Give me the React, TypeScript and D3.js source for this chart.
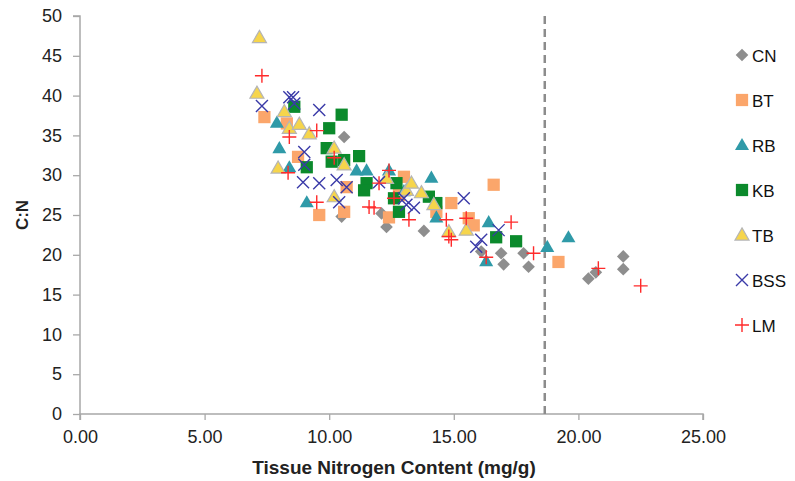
import React, { useEffect, useRef } from 'react';
import * as d3 from 'd3';

// C:N ratio vs tissue nitrogen, one list of [x, y] per species
const cn = [[10.6, 34.8], [10.5, 24.8], [12.1, 25.2], [12.3, 23.5], [13.8, 23.0], [16.1, 20.4], [16.9, 20.2],
  [17.0, 18.8], [17.8, 20.2], [18.0, 18.5], [20.4, 17.0], [20.7, 17.8], [21.8, 19.8], [21.8, 18.2]];
const bt = [[7.4, 37.3], [8.3, 36.5], [8.75, 32.3], [9.6, 25.0], [10.6, 25.4], [10.7, 28.5], [12.4, 24.7],
  [13.0, 29.8], [14.3, 25.4], [14.9, 26.5], [15.6, 24.6], [15.8, 23.7], [16.6, 28.8], [19.2, 19.1], [12.8, 27.5]];
const rb = [[7.9, 36.6], [8.0, 33.4], [8.4, 31.0], [9.1, 26.6], [11.1, 30.6], [11.5, 30.6], [12.4, 30.6],
  [14.1, 29.7], [14.3, 24.7], [16.4, 24.1], [16.3, 19.2], [18.75, 21.0], [19.6, 22.2], [13.0, 28.0]];
const kb = [[8.6, 38.6], [9.1, 31.0], [10.5, 37.6], [10.0, 35.9], [9.9, 33.4], [10.1, 31.7], [10.6, 31.9],
  [11.2, 32.4], [11.5, 29.0], [11.4, 28.1], [12.7, 29.0], [12.6, 27.1], [12.8, 25.4], [14.0, 27.3], [14.3, 26.5],
  [16.7, 22.2], [17.5, 21.7]];
const tb = [[7.2, 47.3], [7.1, 40.3], [8.2, 38.0], [8.4, 35.9], [8.8, 36.4], [9.2, 35.2], [7.95, 30.9],
  [10.2, 33.4], [10.6, 31.3], [10.2, 27.3], [12.3, 29.6], [13.1, 28.1], [13.3, 29.0], [13.7, 27.8], [14.2, 26.3],
  [14.8, 22.9], [15.5, 23.1]];
const bss = [[7.3, 38.7], [8.4, 39.8], [8.55, 39.8], [8.6, 39.0], [9.6, 38.2], [9.0, 32.9], [9.0, 31.3],
  [8.95, 29.1], [9.6, 29.0], [10.3, 29.4], [10.7, 28.5], [10.4, 26.6], [12.0, 29.1], [13.0, 27.1], [13.1, 26.3],
  [13.4, 25.9], [15.4, 27.1], [16.1, 21.9], [16.8, 23.1], [15.9, 21.0]];
const lm = [[7.3, 42.5], [8.4, 34.8], [8.35, 30.3], [9.5, 35.6], [10.2, 32.2], [9.5, 26.6], [11.6, 26.0],
  [11.8, 25.9], [12.0, 29.0], [12.4, 30.6], [12.6, 27.1], [13.2, 24.4], [14.7, 24.4], [14.9, 21.9], [14.8, 22.3],
  [15.5, 24.6], [16.3, 19.7], [17.3, 24.1], [18.2, 20.2], [20.8, 18.3], [22.5, 16.1]];

const seriesNames = ['CN', 'BT', 'RB', 'KB', 'TB', 'BSS', 'LM'];
const seriesData = [cn, bt, rb, kb, tb, bss, lm];
const xTicks = [0, 5, 10, 15, 20, 25];
const yTicks = [0, 5, 10, 15, 20, 25, 30, 35, 40, 45, 50];
const cutoff = 18.65;

const styles: any = {
  CN: { shape: 'diamond', fill: '#8e8e8e' },
  BT: { shape: 'square', fill: '#fba66b' },
  RB: { shape: 'triangle', fill: '#2f9aa8' },
  KB: { shape: 'square', fill: '#0b8a2c' },
  TB: { shape: 'triangle', fill: '#f6d54b', stroke: '#b5b5b5' },
  BSS: { shape: 'x', stroke: '#3a3aa8' },
  LM: { shape: 'plus', stroke: '#ff2a2a' },
};

const W = 795, H = 481;
const margin = { top: 16, right: 92, bottom: 67, left: 80 };

function addMarker(g: any, name: string) {
  const s = styles[name];
  if (s.shape === 'square') {
    g.append('path').attr('d', d3.symbol(d3.symbolSquare, 150)()).attr('fill', s.fill);
  } else if (s.shape === 'diamond') {
    g.append('path').attr('d', d3.symbol(d3.symbolSquare, 80)()).attr('transform', 'rotate(45)').attr('fill', s.fill);
  } else if (s.shape === 'triangle') {
    g.append('path').attr('d', d3.symbol(d3.symbolTriangle, 85)()).attr('transform', 'translate(0,1)')
      .attr('fill', s.fill).attr('stroke', s.stroke || 'none').attr('stroke-width', 1.2);
  } else if (s.shape === 'x') {
    g.append('path').attr('d', 'M-6,-6L6,6M-6,6L6,-6').attr('stroke', s.stroke).attr('stroke-width', 1.4).attr('fill', 'none');
  } else {
    g.append('path').attr('d', 'M-7,0H7M0,-7V7').attr('stroke', s.stroke).attr('stroke-width', 1.4).attr('fill', 'none');
  }
}

export default function App() {
  const ref = useRef<SVGSVGElement>(null);

  useEffect(() => {
    document.body.style.margin = '0';
    const svg = d3.select(ref.current);
    svg.selectAll('*').remove();

    const x = d3.scaleLinear().domain([0, 25]).range([margin.left, W - margin.right]);
    const y = d3.scaleLinear().domain([0, 50]).range([H - margin.bottom, margin.top]);
    const axisColor = '#a8a8a8';
    const font = 'Liberation Sans, Arial, sans-serif';

    // y axis
    const yAxis = svg.append('g')
      .attr('transform', `translate(${margin.left},0)`)
      .call(d3.axisLeft(y).tickValues(yTicks).tickSize(7).tickPadding(11).tickFormat(d3.format('d')));
    // x axis
    const xAxis = svg.append('g')
      .attr('transform', `translate(0,${H - margin.bottom})`)
      .call(d3.axisBottom(x).tickValues(xTicks).tickSize(6).tickPadding(10).tickFormat(d3.format('.2f')));
    [yAxis, xAxis].forEach(a => {
      a.select('.domain').attr('stroke', axisColor).attr('stroke-width', 1.5);
      a.selectAll('.tick line').attr('stroke', axisColor).attr('stroke-width', 1.3);
      a.selectAll('.tick text').attr('fill', '#222').style('font-family', font).style('font-size', '18px');
    });
    yAxis.select('.domain').attr('d', `M-7,${y(50)}H0V${y(0)}`);
    xAxis.select('.domain').attr('d', `M${x(0)},6V0H${x(25)}V6`);

    // dashed cutoff line
    svg.append('line')
      .attr('x1', x(cutoff)).attr('x2', x(cutoff))
      .attr('y1', y(50)).attr('y2', y(0))
      .attr('stroke', '#8c8c8c').attr('stroke-width', 2.5).attr('stroke-dasharray', '8,5');

    // points
    seriesNames.forEach((name, i) => {
      const grp = svg.append('g').attr('class', `series-${name}`);
      seriesData[i].forEach(d => {
        const g = grp.append('g').attr('transform', `translate(${x(d[0])},${y(d[1])})`);
        addMarker(g, name);
      });
    });

    // legend
    const legend = svg.append('g').attr('transform', 'translate(742,55)');
    seriesNames.forEach((name, i) => {
      const row = legend.append('g').attr('transform', `translate(0,${i * 45})`);
      addMarker(row.append('g'), name);
      row.append('text')
        .attr('x', 10).attr('y', 7)
        .style('font-family', font).style('font-size', '17px').attr('fill', '#111')
        .text(name);
    });

    // axis titles
    svg.append('text')
      .attr('x', 394).attr('y', 474)
      .attr('text-anchor', 'middle')
      .style('font-family', font).style('font-size', '19px').style('font-weight', 'bold').attr('fill', '#222')
      .text('Tissue Nitrogen Content (mg/g)');
    svg.append('text')
      .attr('transform', `translate(28,${(y(0) + y(50)) / 2}) rotate(-90)`)
      .attr('text-anchor', 'middle')
      .style('font-family', font).style('font-size', '17px').style('font-weight', 'bold').attr('fill', '#222')
      .text('C:N');
  }, []);

  return <svg ref={ref} width={W} height={H} style={{ display: 'block', background: '#fff' }} />;
}
